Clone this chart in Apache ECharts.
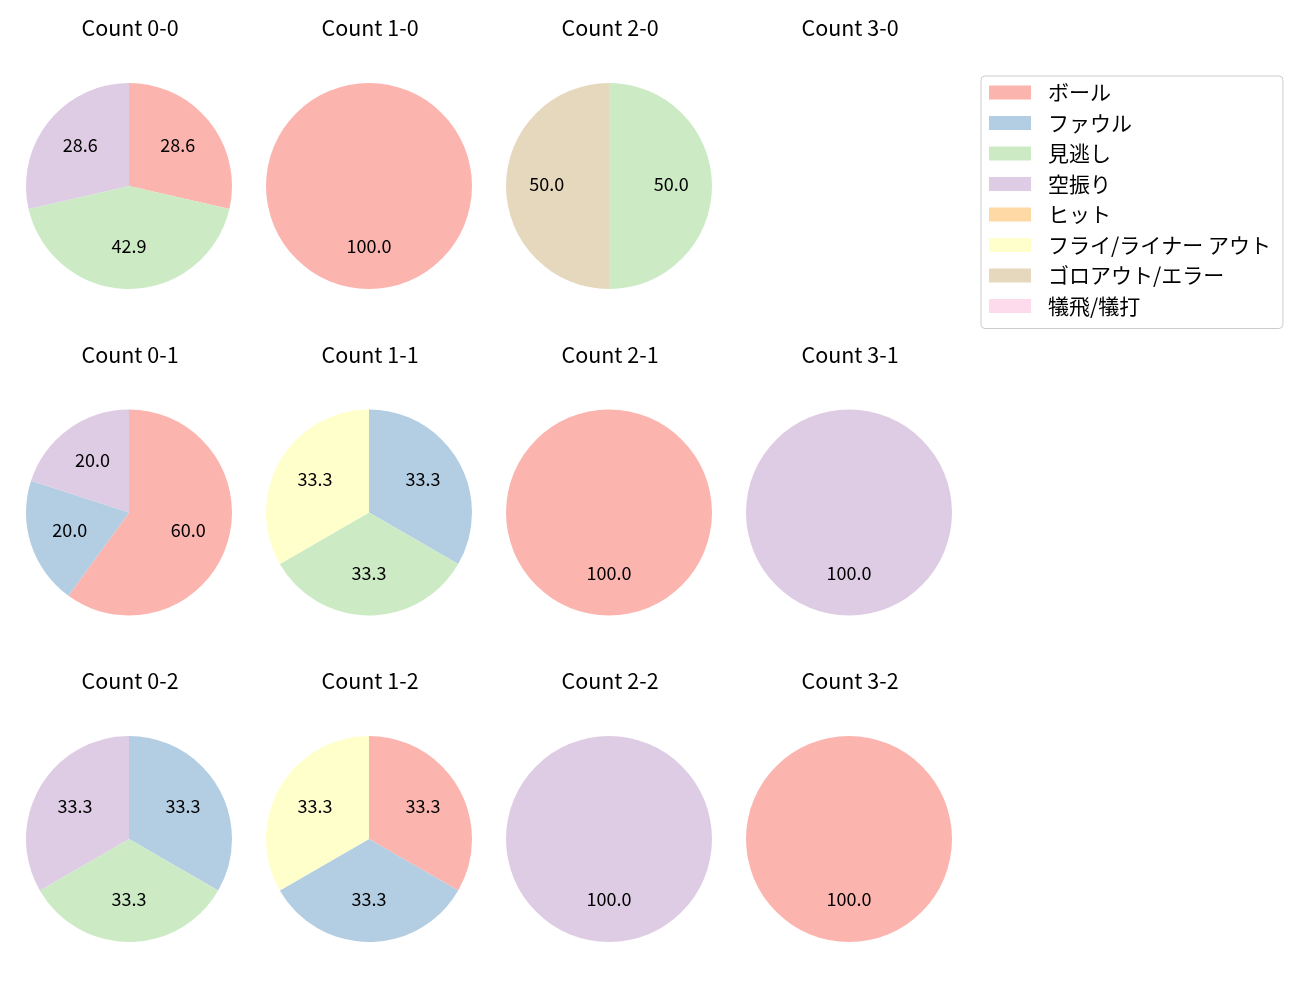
<!DOCTYPE html>
<html><head><meta charset="utf-8">
<script src="https://cdn.jsdelivr.net/npm/echarts@6/dist/echarts.min.js"></script>
<style>html,body{margin:0;padding:0;background:#fff}#c{width:1300px;height:1000px}</style>
</head><body><div id="c"></div>
<script>
const categories = ['ボール','ファウル','見逃し','空振り','ヒット','フライ/ライナー アウト','ゴロアウト/エラー','犠飛/犠打'];
const colors = ['#fbb4ae','#b3cde3','#ccebc5','#decbe4','#fed9a6','#ffffcc','#e5d8bd','#fddaec'];
const titles = [
  ['Count 0-0','Count 1-0','Count 2-0','Count 3-0'],
  ['Count 0-1','Count 1-1','Count 2-1','Count 3-1'],
  ['Count 0-2','Count 1-2','Count 2-2','Count 3-2']
];
// counts per category (order of categories)
const count00 = [2,0,3,2,0,0,0,0];
const count10 = [1,0,0,0,0,0,0,0];
const count20 = [0,0,1,0,0,0,1,0];
const count30 = [0,0,0,0,0,0,0,0];
const count01 = [3,1,0,1,0,0,0,0];
const count11 = [0,1,1,0,0,1,0,0];
const count21 = [1,0,0,0,0,0,0,0];
const count31 = [0,0,0,1,0,0,0,0];
const count02 = [0,1,1,1,0,0,0,0];
const count12 = [1,1,0,0,0,1,0,0];
const count22 = [0,0,0,1,0,0,0,0];
const count32 = [1,0,0,0,0,0,0,0];
const grid = [
  [count00,count10,count20,count30],
  [count01,count11,count21,count31],
  [count02,count12,count22,count32]
];

const FONT = 'Noto Sans CJK JP';
const colX = [129,369,609,849];
const rowY = [186,512.5,839];
const titleY = [29,356,682];
const R = 103;

const series = [];
const titleArr = [];
for (let r=0;r<3;r++){
  for (let c=0;c<4;c++){
    titleArr.push({text:titles[r][c], left:colX[c]-4, top:titleY[r]-17, textAlign:'center',
      textStyle:{fontFamily:FONT,fontSize:21.5,fontWeight:'normal',color:'#000'}});
    const vals = grid[r][c];
    const data = [];
    vals.forEach((v,i)=>{ if(v>0) data.push({name:categories[i], value:v, itemStyle:{color:colors[i]}}); });
    if (!data.length) continue;
    series.push({type:'pie', center:[colX[c],rowY[r]], radius:[0,R], startAngle:90, clockwise:true,
      silent:true, animation:false, label:{show:false}, labelLine:{show:false}, data:data,
      itemStyle:{borderWidth:0}});
    series.push({type:'pie', center:[colX[c],rowY[r]], radius:[R*0.15,R], startAngle:90, clockwise:true,
      silent:true, animation:false, labelLine:{show:false},
      label:{show:true, position:'inside', fontFamily:FONT, fontSize:18, color:'#000', offset:[0,-2],
        formatter:p=>p.percent.toFixed(1)},
      itemStyle:{color:'rgba(0,0,0,0)', borderWidth:0},
      data:data.map(d=>({name:d.name,value:d.value,itemStyle:{color:'rgba(0,0,0,0)'}}))});
  }
}
// legend carrier (invisible)
series.push({type:'pie', center:[-500,-500], radius:[0,1], silent:true, animation:false, label:{show:false},
  data:categories.map((n,i)=>({name:n,value:1,itemStyle:{color:colors[i]}}))});

const chart = echarts.init(document.getElementById('c'));
chart.setOption({
  animation:false,
  title:titleArr,
  legend:{orient:'vertical', left:981, top:76, icon:'rect', itemWidth:42, itemHeight:14, itemGap:9.5,
    padding:[6,12,12,8], borderColor:'#cccccc', borderWidth:1, borderRadius:4, backgroundColor:'#fff',
    selectedMode:false,
    textStyle:{fontFamily:FONT,fontSize:21,color:'#000',padding:[0,0,0,12]},
    data:categories},
  series:series
});
</script></body></html>
